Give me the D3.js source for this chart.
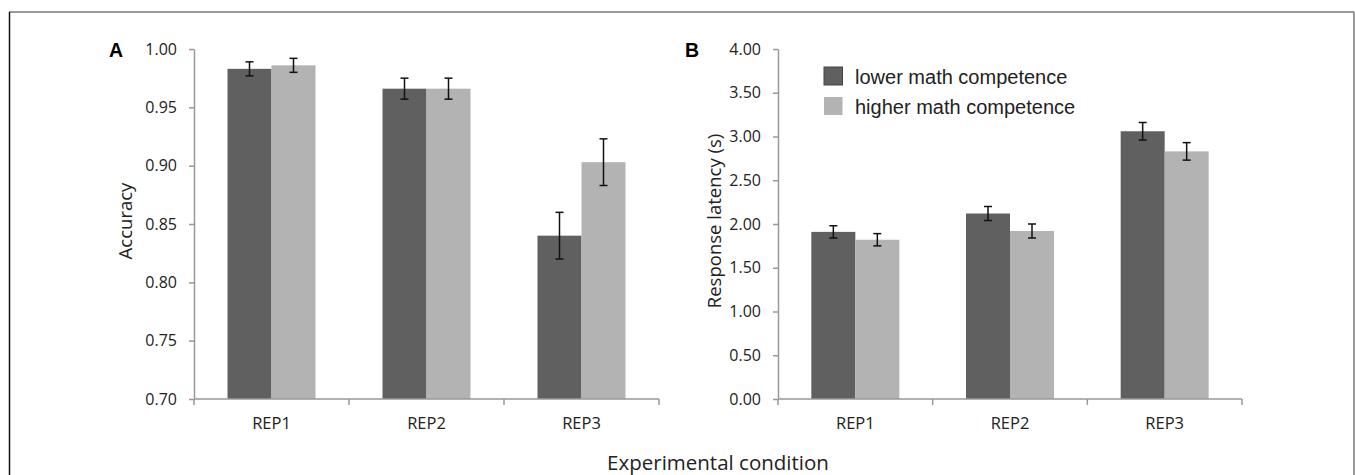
<!DOCTYPE html>
<html>
<head>
<meta charset="utf-8">
<script src="https://cdn.jsdelivr.net/npm/d3@7"></script>
<style>
  body { margin: 0; background: #fff; }
  svg text { fill: #222; }
</style>
</head>
<body>
<svg id="chart" width="1355" height="475"></svg>
<script>
// categories and series
var conditions = ['REP1', 'REP2', 'REP3'];
var groups = ['lower math competence', 'higher math competence'];
var groupColors = ['#606060', '#b3b3b3'];

// panel A: accuracy
var accLower = [0.983, 0.966, 0.840];
var accLowerErr = [0.006, 0.009, 0.020];
var accHigher = [0.986, 0.966, 0.903];
var accHigherErr = [0.006, 0.009, 0.020];
var accTicks = [0.70, 0.75, 0.80, 0.85, 0.90, 0.95, 1.00];

// panel B: response latency
var latLower = [1.91, 2.12, 3.06];
var latLowerErr = [0.07, 0.08, 0.10];
var latHigher = [1.82, 1.92, 2.83];
var latHigherErr = [0.07, 0.08, 0.10];
var latTicks = [0, 0.5, 1, 1.5, 2, 2.5, 3, 3.5, 4];

var svg = d3.select('#chart');

// frame
svg.append('line').attr('x1', 9).attr('y1', 12).attr('x2', 1354).attr('y2', 12)
    .style('stroke', '#777').style('stroke-width', 1.5);
svg.append('line').attr('x1', 9.5).attr('y1', 12).attr('x2', 9.5).attr('y2', 475)
    .style('stroke', '#111').style('stroke-width', 1.5);
svg.append('line').attr('x1', 1354).attr('y1', 12).attr('x2', 1354).attr('y2', 475)
    .style('stroke', '#777').style('stroke-width', 1.5);

function drawPanel(opt) {
    var g = svg.append('g');
    var x = d3.scaleBand().domain(conditions).range([opt.x0, opt.x1]).paddingInner(0).paddingOuter(0);
    var y = d3.scaleLinear().domain(opt.domain).range([399, 49]);

    // y axis
    var yAxis = d3.axisLeft(y).tickValues(opt.ticks).tickFormat(d3.format('.2f'))
        .tickSize(5).tickSizeOuter(0).tickPadding(12);
    var ya = g.append('g').attr('transform', 'translate(' + opt.x0 + ',0)').call(yAxis);
    ya.select('.domain').style('stroke', '#999').style('stroke-width', 1.5);
    ya.selectAll('.tick line').style('stroke', '#999').style('stroke-width', 1.5);
    ya.selectAll('.tick text').style('font-family', '"Open Sans", sans-serif')
        .style('font-size', '16px').style('fill', '#222');

    // bars
    var inner = d3.scaleBand().domain([0, 1]).range([0, 88]);
    var series = [
        {vals: opt.lower, errs: opt.lowerErr, i: 0},
        {vals: opt.higher, errs: opt.higherErr, i: 1}
    ];
    series.forEach(function(s) {
        var bx = function(d, j) { return x(conditions[j]) + (x.bandwidth() - 88) / 2 + inner(s.i); };
        g.selectAll('.bar' + s.i).data(s.vals).enter().append('rect')
            .attr('x', bx)
            .attr('y', function(d) { return y(d); })
            .attr('width', inner.bandwidth())
            .attr('height', function(d) { return y(opt.domain[0]) - y(d); })
            .style('fill', groupColors[s.i]);
        // error bars
        var cx = function(d, j) { return bx(d, j) + inner.bandwidth() / 2; };
        var eg = g.selectAll('.err' + s.i).data(s.vals).enter().append('g');
        eg.append('line')
            .attr('x1', cx).attr('x2', cx)
            .attr('y1', function(d, j) { return y(d + s.errs[j]); })
            .attr('y2', function(d, j) { return y(d - s.errs[j]); });
        eg.append('line')
            .attr('x1', function(d, j) { return cx(d, j) - 4; })
            .attr('x2', function(d, j) { return cx(d, j) + 4; })
            .attr('y1', function(d, j) { return y(d + s.errs[j]); })
            .attr('y2', function(d, j) { return y(d + s.errs[j]); });
        eg.append('line')
            .attr('x1', function(d, j) { return cx(d, j) - 4; })
            .attr('x2', function(d, j) { return cx(d, j) + 4; })
            .attr('y1', function(d, j) { return y(d - s.errs[j]); })
            .attr('y2', function(d, j) { return y(d - s.errs[j]); });
        eg.selectAll('line').style('stroke', '#111').style('stroke-width', 1.5);
    });

    // x axis
    var xa = g.append('g').attr('transform', 'translate(0,399)');
    xa.append('line').attr('x1', opt.x0).attr('x2', opt.x1).attr('y1', 0).attr('y2', 0)
        .style('stroke', '#999').style('stroke-width', 1.5);
    var edges = conditions.map(function(c) { return x(c); }).concat([opt.x1]);
    xa.selectAll('.xt').data(edges).enter().append('line')
        .attr('x1', function(d) { return d; }).attr('x2', function(d) { return d; })
        .attr('y1', 0).attr('y2', 6)
        .style('stroke', '#999').style('stroke-width', 1.5);
    xa.selectAll('.xl').data(conditions).enter().append('text')
        .attr('x', function(d) { return x(d) + x.bandwidth() / 2; })
        .attr('y', 30)
        .attr('text-anchor', 'middle')
        .style('font-family', '"Open Sans", sans-serif').style('font-size', '16.5px')
        .text(function(d) { return d; });

    // y title
    g.append('text')
        .attr('transform', 'translate(' + opt.titleX + ',' + 221 + ') rotate(-90)')
        .attr('text-anchor', 'middle')
        .style('font-family', '"Open Sans", sans-serif').style('font-size', '18.5px')
        .text(opt.title);

    // panel letter
    g.append('text').attr('x', opt.letterX).attr('y', 57)
        .style('font-family', '"Liberation Sans", Arial, sans-serif')
        .style('font-size', '19.5px').style('font-weight', 'bold').style('fill', '#000')
        .text(opt.letter);

    return g;
}

drawPanel({x0: 194, x1: 659, domain: [0.70, 1.00], ticks: accTicks,
    lower: accLower, lowerErr: accLowerErr, higher: accHigher, higherErr: accHigherErr,
    title: 'Accuracy', titleX: 132, letter: 'A', letterX: 109});

drawPanel({x0: 778, x1: 1242, domain: [0, 4], ticks: latTicks,
    lower: latLower, lowerErr: latLowerErr, higher: latHigher, higherErr: latHigherErr,
    title: 'Response latency (s)', titleX: 721, letter: 'B', letterX: 685});

// legend
var leg = svg.append('g').attr('transform', 'translate(824,67)');
groups.forEach(function(name, i) {
    leg.append('rect').attr('x', 0).attr('y', i * 30).attr('width', 18.5).attr('height', 18)
        .style('fill', groupColors[i]).style('stroke', i === 0 ? '#444' : 'none').style('stroke-width', 1);
    leg.append('text').attr('x', 31).attr('y', i * 30 + 16.5)
        .style('font-family', '"Liberation Sans", Arial, sans-serif').style('font-size', '20px')
        .style('fill', '#222')
        .text(name);
});

// shared x title
svg.append('text').attr('x', 718).attr('y', 470).attr('text-anchor', 'middle')
    .style('font-family', '"Open Sans", sans-serif').style('font-size', '20.5px')
    .text('Experimental condition');
</script>
</body>
</html>
